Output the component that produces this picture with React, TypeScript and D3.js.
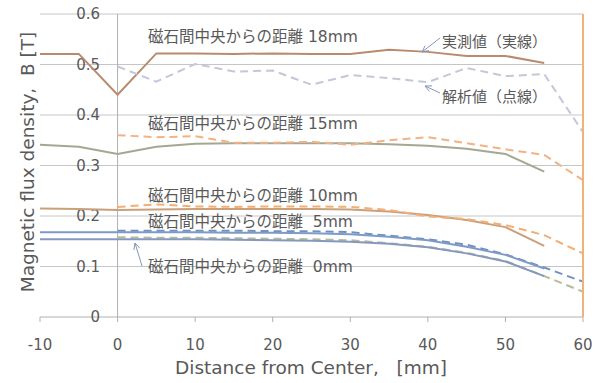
import React from "react";
import * as d3 from "d3";

// x positions [mm]
const measuredX = [-10, -5, 0, 5, 10, 15, 20, 25, 30, 35, 40, 45, 50, 55];
const analyticX = [0, 5, 10, 15, 20, 25, 30, 35, 40, 45, 50, 55, 60];

// measured values (solid) [T]
const meas18 = [0.521, 0.521, 0.44, 0.522, 0.522, 0.521, 0.522, 0.521, 0.521, 0.529, 0.525, 0.517, 0.517, 0.503];
const meas15 = [0.341, 0.337, 0.323, 0.337, 0.343, 0.344, 0.344, 0.344, 0.344, 0.342, 0.339, 0.333, 0.323, 0.288];
const meas10 = [0.215, 0.214, 0.212, 0.213, 0.214, 0.214, 0.214, 0.214, 0.213, 0.209, 0.202, 0.192, 0.178, 0.141];
const meas5 = [0.168, 0.168, 0.168, 0.168, 0.168, 0.167, 0.167, 0.166, 0.164, 0.159, 0.152, 0.139, 0.123, 0.096];
const meas0 = [0.154, 0.154, 0.154, 0.154, 0.154, 0.153, 0.152, 0.151, 0.149, 0.145, 0.138, 0.126, 0.11, 0.081];

// analytic values (dashed) [T]
const calc18 = [0.496, 0.466, 0.501, 0.486, 0.488, 0.46, 0.479, 0.473, 0.465, 0.493, 0.477, 0.481, 0.366];
const calc15 = [0.36, 0.356, 0.358, 0.345, 0.345, 0.347, 0.341, 0.35, 0.356, 0.344, 0.332, 0.321, 0.271];
const calc10 = [0.218, 0.223, 0.219, 0.218, 0.219, 0.219, 0.218, 0.212, 0.199, 0.194, 0.182, 0.162, 0.126];
const calc5 = [0.171, 0.171, 0.171, 0.171, 0.17, 0.17, 0.168, 0.161, 0.154, 0.143, 0.124, 0.098, 0.07];
const calc0 = [0.158, 0.157, 0.157, 0.156, 0.155, 0.154, 0.152, 0.146, 0.139, 0.127, 0.111, 0.081, 0.05];

// orange vertical marker at 60mm
const edgeX = [60, 60];
const edgeY = [0, 0.6];

const xTicks = [-10, 0, 10, 20, 30, 40, 50, 60];
const yTicks = [0, 0.1, 0.2, 0.3, 0.4, 0.5, 0.6];

const seriesList = [
  { xs: measuredX, ys: meas18, color: "#b98b6e", dash: null },
  { xs: analyticX, ys: calc18, color: "#c3c7da", dash: "8,5" },
  { xs: measuredX, ys: meas15, color: "#a4a893", dash: null },
  { xs: analyticX, ys: calc15, color: "#f4b183", dash: "8,5" },
  { xs: measuredX, ys: meas10, color: "#c9a07a", dash: null },
  { xs: analyticX, ys: calc10, color: "#f4ad72", dash: "8,5" },
  { xs: analyticX, ys: calc0, color: "#b5bc9c", dash: "8,5" },
  { xs: measuredX, ys: meas0, color: "#8598bd", dash: null },
  { xs: analyticX, ys: calc5, color: "#6f90c0", dash: "8,5" },
  { xs: measuredX, ys: meas5, color: "#7d9bc6", dash: null },
  { xs: edgeX, ys: edgeY, color: "#f0b27a", dash: null },
];

const labels = [
  { text: "磁石間中央からの距離 18mm", y: 0.556 },
  { text: "磁石間中央からの距離 15mm", y: 0.384 },
  { text: "磁石間中央からの距離 10mm", y: 0.241 },
  { text: "磁石間中央からの距離  5mm", y: 0.189 },
  { text: "磁石間中央からの距離  0mm", y: 0.099 },
];

const W = 597;
const H = 383;
const font = "Verdana, 'DejaVu Sans', 'Noto Sans CJK JP', sans-serif";
const textColor = "#595959";

export default function App() {
  const x = d3.scaleLinear().domain([-10, 60]).range([40, 583]);
  const y = d3.scaleLinear().domain([0, 0.6]).range([317, 14]);

  const line = (xs: number[], ys: number[]) =>
    d3
      .line<number>()
      .x((_, i) => x(xs[i]))
      .y(d => y(d))(ys) as string;

  const arrow = (x1: number, y1: number, x2: number, y2: number) => {
    const ang = Math.atan2(y2 - y1, x2 - x1);
    const len = 7;
    const a1 = ang + Math.PI - 0.45;
    const a2 = ang + Math.PI + 0.45;
    return (
      <g stroke="#8496b8" strokeWidth={1} fill="none">
        <line x1={x1} y1={y1} x2={x2} y2={y2} />
        <polyline
          points={`${x2 + len * Math.cos(a1)},${y2 + len * Math.sin(a1)} ${x2},${y2} ${x2 + len * Math.cos(a2)},${y2 + len * Math.sin(a2)}`}
        />
      </g>
    );
  };

  return (
    <svg
      width={W}
      height={H}
      style={{ position: "absolute", left: 0, top: 0, background: "#fff" }}
      fontFamily={font}
    >
      {/* grid */}
      {yTicks.map(t => (
        <line key={t} x1={x(-10)} x2={x(60)} y1={y(t)} y2={y(t)} stroke={t === 0 ? "#b0b0b0" : "#c6c6c6"} strokeWidth={1} />
      ))}
      {/* y axis at x=0 */}
      <line x1={x(0)} x2={x(0)} y1={y(0.6)} y2={y(0)} stroke="#b0b0b0" />
      {xTicks.map(t => (
        <line key={t} x1={x(t)} x2={x(t)} y1={y(0)} y2={y(0) + 5} stroke="#b0b0b0" />
      ))}

      {/* tick labels */}
      {yTicks.map(t => (
        <text key={t} x={100} y={y(t)} dy="0.35em" textAnchor="end" fontSize={15} fill={textColor}>
          {t === 0 ? "0" : d3.format(".1f")(t)}
        </text>
      ))}
      {xTicks.map(t => (
        <text key={t} x={x(t)} y={345} dy="0.35em" textAnchor="middle" fontSize={15} fill={textColor}>
          {t}
        </text>
      ))}

      {/* series */}
      {seriesList.map((s, i) => (
        <path
          key={i}
          d={line(s.xs, s.ys)}
          fill="none"
          stroke={s.color}
          strokeWidth={2}
          strokeDasharray={s.dash ?? undefined}
        />
      ))}

      {/* annotations */}
      {labels.map(l => (
        <text key={l.text} x={148} y={y(l.y)} dy="0.35em" fontSize={15.5} fill={textColor} style={{ whiteSpace: "pre" }}>
          {l.text}
        </text>
      ))}
      <text x={442} y={42} dy="0.35em" fontSize={15} fill={textColor}>実測値（実線）</text>
      <text x={442} y={97} dy="0.35em" fontSize={15} fill={textColor}>解析値（点線）</text>
      {arrow(440, 38, 422, 52)}
      {arrow(440, 93, 425, 86)}
      {arrow(142, 266, 135, 243)}

      {/* axis titles */}
      <text x={311} y={368} dy="0.35em" textAnchor="middle" fontSize={18.5} fill={textColor} style={{ whiteSpace: "pre" }}>
        {"Distance from Center,   [mm]"}
      </text>
      <text
        transform={`translate(28,${162}) rotate(-90)`}
        dy="0.35em"
        textAnchor="middle"
        fontSize={18.5}
        fill={textColor}
        style={{ whiteSpace: "pre" }}
      >
        {"Magnetic flux density,  B [T]"}
      </text>
    </svg>
  );
}
